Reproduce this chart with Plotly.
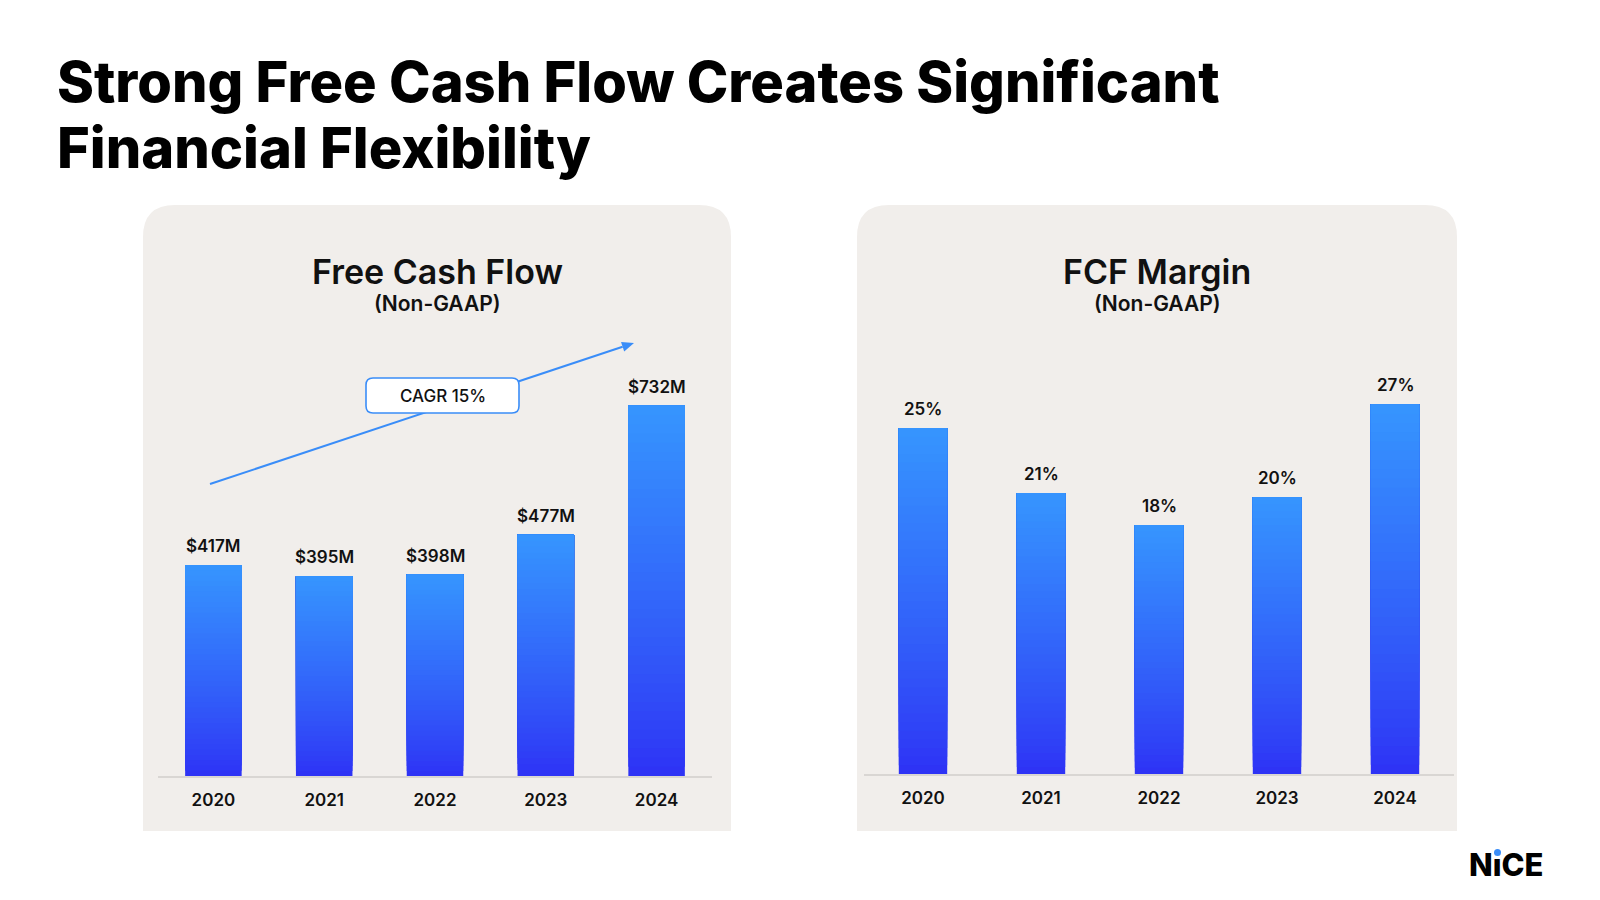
import plotly.graph_objects as go

# ---------------- data ----------------
years = ["2020", "2021", "2022", "2023", "2024"]
fcf_values = [417, 395, 398, 477, 732]          # $M
fcf_labels = ["$417M", "$395M", "$398M", "$477M", "$732M"]
margin_values = [25.0, 20.3, 18.0, 20.0, 26.7]  # %
margin_labels = ["25%", "21%", "18%", "20%", "27%"]

title_lines = ["Strong Free Cash Flow Creates Significant", "Financial Flexibility"]
panel_titles = ["Free Cash Flow", "FCF Margin"]
panel_subtitle = "(Non-GAAP)"
cagr_text = "CAGR 15%"

# ---------------- style ----------------
W, H = 1600, 900
FONT = "Inter"
PANEL_BG = "#F1EEEB"
DARK = (0x2E, 0x31, 0xF5)
LIGHT = (0x36, 0x95, 0xFE)
ACCENT = "#3A8DF8"
NSEG = 40


def px(x):
    return x / W


def py(y):
    return 1 - y / H


def seg_color(t):
    t = min(1.0, t ** 0.85)
    c = [round(DARK[k] + (LIGHT[k] - DARK[k]) * t) for k in range(3)]
    return "rgb(%d,%d,%d)" % tuple(c)


fig = go.Figure()


def add_gradient_bars(values, xa, ya, width):
    # each layer runs from its own base to the bar top; later layers cover earlier ones
    for i in range(NSEG):
        bases = [v * i / NSEG for v in values]
        fig.add_trace(go.Bar(
            x=years,
            y=[v - b for v, b in zip(values, bases)],
            base=bases,
            width=width,
            marker=dict(color=seg_color((i + 0.5) / NSEG), line=dict(width=0)),
            xaxis=xa, yaxis=ya, hoverinfo="skip", showlegend=False,
        ))


add_gradient_bars(fcf_values, "x", "y", 0.51)
add_gradient_bars(margin_values, "x2", "y2", 0.41)

axis_common = dict(type="category", categoryorder="array", categoryarray=years,
                   range=[-0.5, 4.5], automargin=False,
                   showgrid=False, zeroline=False, showline=True,
                   linecolor="#D9D6D3", linewidth=1.5, fixedrange=True,
                   tickfont=dict(family=FONT, size=17, color="#111111", weight=600),
                   ticks="outside", ticklen=8, tickcolor="rgba(0,0,0,0)")
yaxis_common = dict(type="linear", automargin=False, showgrid=False, zeroline=False,
                    showline=False, showticklabels=False, fixedrange=True)

fig.update_layout(
    width=W, height=H, autosize=False,
    margin=dict(l=0, r=0, t=0, b=0, pad=0),
    paper_bgcolor="white", plot_bgcolor="rgba(0,0,0,0)",
    barmode="overlay", showlegend=False,
    font=dict(family=FONT),
    xaxis=dict(domain=[px(158), px(712)], anchor="y", **axis_common),
    yaxis=dict(domain=[py(776), py(300)], range=[0, (776 - 300) / 0.506], anchor="x", **yaxis_common),
    xaxis2=dict(domain=[px(864), px(1454)], anchor="y2", **axis_common),
    yaxis2=dict(domain=[py(774), py(300)], range=[0, (774 - 300) / 13.84], anchor="x2", **yaxis_common),
)


def rounded_top_panel(x0, y0, x1, y1, r):
    rx, ry = r / W, r / H
    X0, X1 = px(x0), px(x1)
    Y0, Y1 = py(y0), py(y1)  # Y0 top
    return (f"M {X0},{Y1} L {X0},{Y0 - ry} Q {X0},{Y0} {X0 + rx},{Y0} "
            f"L {X1 - rx},{Y0} Q {X1},{Y0} {X1},{Y0 - ry} L {X1},{Y1} Z")


def rounded_rect(x0, y0, x1, y1, r):
    rx, ry = r / W, r / H
    X0, X1 = px(x0), px(x1)
    Y0, Y1 = py(y0), py(y1)
    return (f"M {X0 + rx},{Y0} L {X1 - rx},{Y0} Q {X1},{Y0} {X1},{Y0 - ry} "
            f"L {X1},{Y1 + ry} Q {X1},{Y1} {X1 - rx},{Y1} L {X0 + rx},{Y1} "
            f"Q {X0},{Y1} {X0},{Y1 + ry} L {X0},{Y0 - ry} Q {X0},{Y0} {X0 + rx},{Y0} Z")


shapes = []
for (x0, x1) in [(143, 731), (857, 1457)]:
    shapes.append(dict(type="path", xref="paper", yref="paper", layer="below",
                       path=rounded_top_panel(x0, 205, x1, 831, 32),
                       fillcolor=PANEL_BG, line=dict(width=0)))

# CAGR arrow
ax0, ay0, ax1, ay1 = 210, 484, 634, 343
dx, dy = ax1 - ax0, ay1 - ay0
L = (dx * dx + dy * dy) ** 0.5
ux, uy = dx / L, dy / L
hl, hw = 12, 5
bx, by = ax1 - ux * hl, ay1 - uy * hl
shapes.append(dict(type="line", xref="paper", yref="paper",
                   x0=px(ax0), y0=py(ay0), x1=px(bx), y1=py(by),
                   line=dict(color=ACCENT, width=2)))
shapes.append(dict(type="path", xref="paper", yref="paper",
                   path=(f"M {px(ax1)},{py(ay1)} L {px(bx - uy * hw)},{py(by + ux * hw)} "
                         f"L {px(bx + uy * hw)},{py(by - ux * hw)} Z"),
                   fillcolor=ACCENT, line=dict(width=0)))
shapes.append(dict(type="path", xref="paper", yref="paper",
                   path=rounded_rect(366, 378, 519, 413, 7),
                   fillcolor="white", line=dict(color=ACCENT, width=1.6)))

# logo dot
shapes.append(dict(type="circle", xref="paper", yref="paper",
                   x0=px(1494), y0=py(849), x1=px(1501), y1=py(856),
                   fillcolor=ACCENT, line=dict(width=0)))
fig.update_layout(shapes=shapes)

annotations = []
for i, line in enumerate(title_lines):
    annotations.append(dict(text=line, xref="paper", yref="paper",
                            x=px(55), y=py(82 + i * 66), xanchor="left", yanchor="middle",
                            showarrow=False,
                            font=dict(family=FONT, size=56, color="#000000", weight=800)))
for cx, t in zip([437, 1157], panel_titles):
    annotations.append(dict(text=t, xref="paper", yref="paper", x=px(cx), y=py(271),
                            xanchor="center", yanchor="middle", showarrow=False,
                            font=dict(family=FONT, size=34, color="#111111", weight=600)))
    annotations.append(dict(text=panel_subtitle, xref="paper", yref="paper", x=px(cx), y=py(303),
                            xanchor="center", yanchor="middle", showarrow=False,
                            font=dict(family=FONT, size=21, color="#111111", weight=600)))

label_font = dict(family=FONT, size=17, color="#111111", weight=600)
for xa, ya, vals, labs in [("x", "y", fcf_values, fcf_labels),
                           ("x2", "y2", margin_values, margin_labels)]:
    for k, (v, lab) in enumerate(zip(vals, labs)):
        annotations.append(dict(text=lab, xref=xa, yref=ya, x=k, y=v,
                                xanchor="center", yanchor="bottom", yshift=7,
                                showarrow=False, font=label_font))

annotations.append(dict(text=cagr_text, xref="paper", yref="paper", x=px(442.5), y=py(395.5),
                        xanchor="center", yanchor="middle", showarrow=False,
                        font=dict(family=FONT, size=17, color="#111111", weight=500)))
annotations.append(dict(text="N\u0131CE", xref="paper", yref="paper", x=px(1506), y=py(864),
                        xanchor="center", yanchor="middle", showarrow=False,
                        font=dict(family=FONT, size=31, color="#000000", weight=800)))
fig.update_layout(annotations=annotations)

fig.write_html("out.html")
